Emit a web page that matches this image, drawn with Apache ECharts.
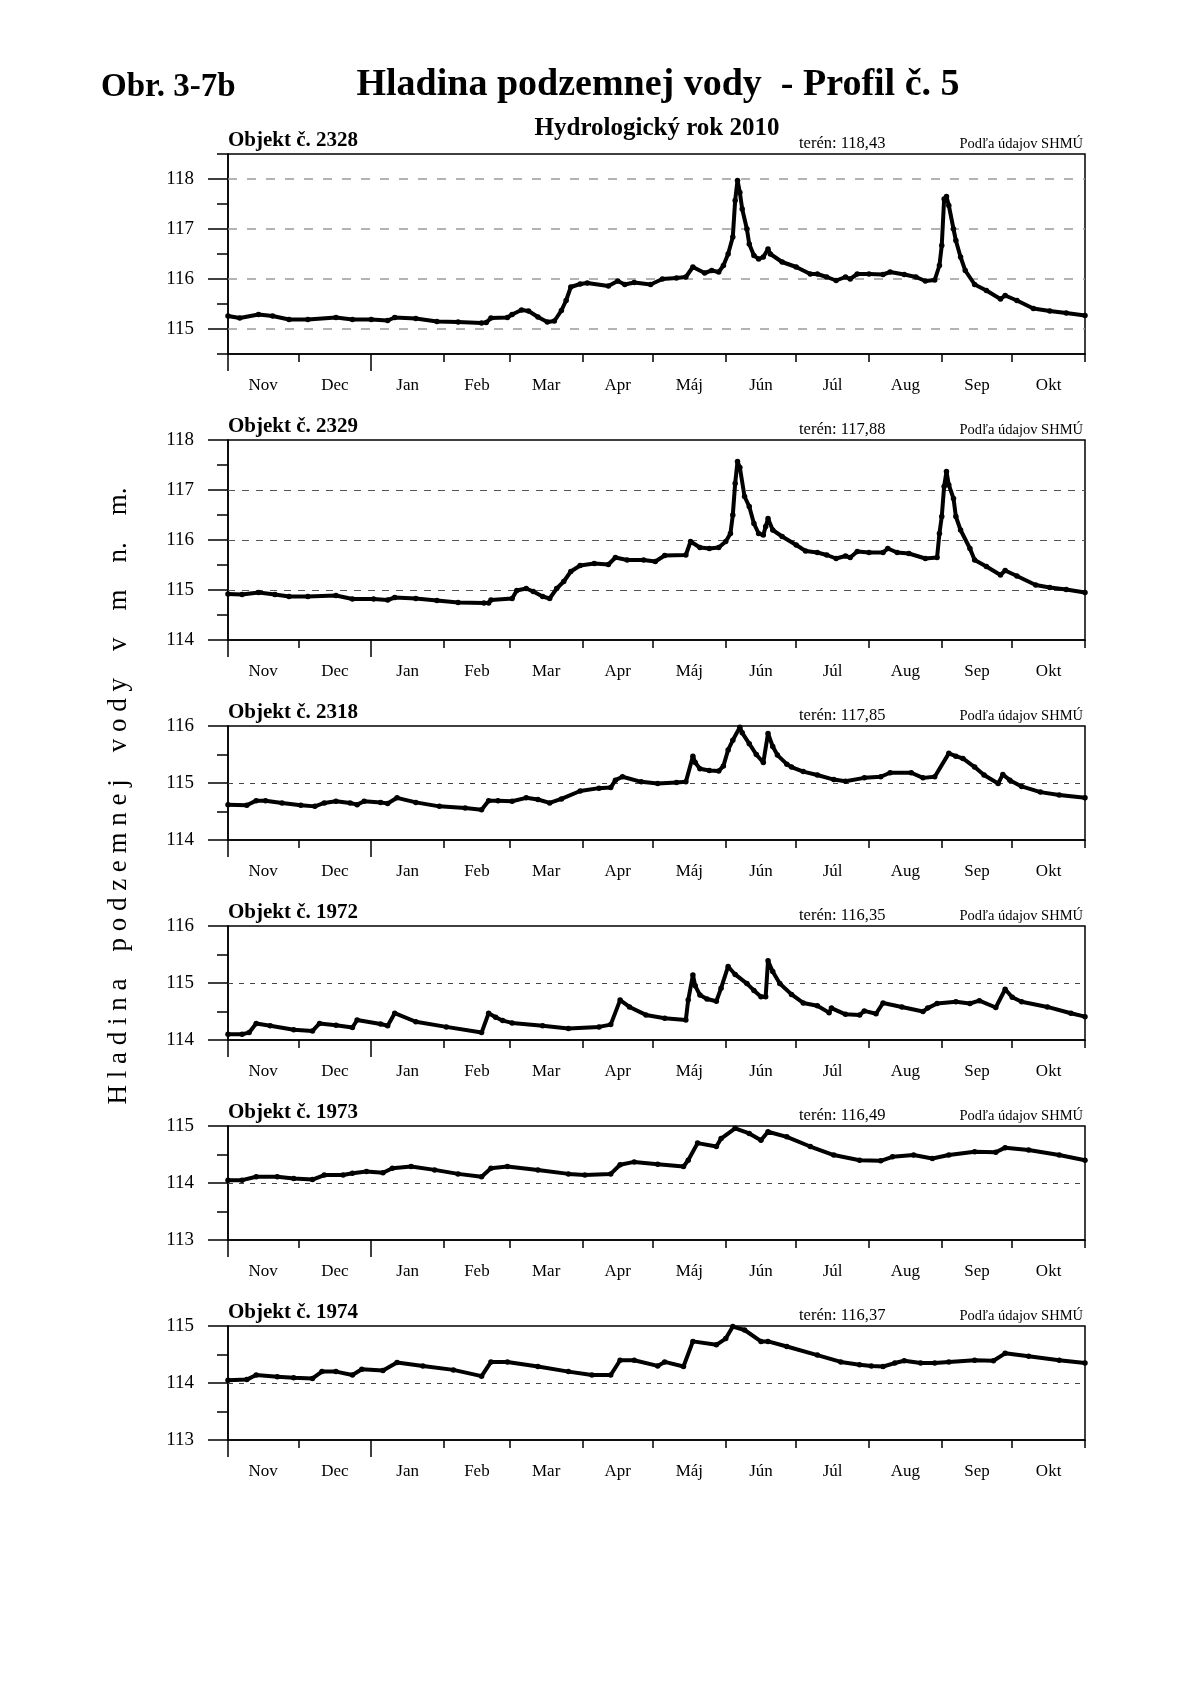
<!DOCTYPE html>
<html><head><meta charset="utf-8">
<script src="https://cdn.jsdelivr.net/npm/echarts@6/dist/echarts.min.js"></script>
<style>html,body{margin:0;padding:0;background:#fff}#c{width:1200px;height:1698px}</style>
</head><body><div id="c"></div>
<script>
// ---- data ----
const monthNames = ['Nov','Dec','Jan','Feb','Mar','Apr','Máj','Jún','Júl','Aug','Sep','Okt'];
const monthStarts = [0,30,61,92,120,151,181,212,242,273,304,334,365]; // days from 1 Nov 2009
const yearStarts = [0,61];
const objekty = ['2328','2329','2318','1972','1973','1974'];
const teren = ['118,43','117,88','117,85','116,35','116,49','116,37'];
const yMin = [114.5,114,114,114,113,113];
const yMax = [118.5,118,116,116,115,115];

const days2328 = [0,5,13,19,26,34,46,53,61,68,71,80,89,98,108,110,112,119,121,125,128,132,136,139,142,144,146,150,153,162,166,169,173,180,185,191,195,198,203,206,209,211,213,215,216,217,218,219,221,222,224,226,228,230,231,236,242,248,251,255,259,263,265,268,273,279,282,288,293,297,301,303,304,305,306,307,309,310,312,314,318,323,329,331,336,343,350,357,365];
const level2328 = [115.26,115.22,115.29,115.26,115.19,115.19,115.23,115.19,115.19,115.17,115.23,115.21,115.15,115.14,115.12,115.13,115.22,115.23,115.29,115.38,115.36,115.24,115.14,115.16,115.37,115.57,115.84,115.90,115.92,115.86,115.96,115.89,115.93,115.89,116.00,116.02,116.04,116.24,116.12,116.17,116.14,116.27,116.50,116.84,117.57,117.97,117.73,117.40,117.00,116.70,116.47,116.40,116.44,116.60,116.50,116.34,116.24,116.10,116.10,116.04,115.97,116.04,116.00,116.10,116.10,116.09,116.14,116.09,116.04,115.96,115.98,116.27,116.67,117.60,117.65,117.47,117.00,116.77,116.44,116.17,115.89,115.77,115.60,115.67,115.57,115.41,115.36,115.32,115.27];

const days2329 = [0,6,13,20,26,34,46,53,62,68,71,80,89,98,109,111,112,121,123,127,130,134,137,140,143,146,150,156,162,165,170,177,182,186,195,197,201,205,209,212,214,215,216,217,218,220,222,224,226,228,229,230,232,236,242,246,251,255,259,263,265,268,273,279,281,285,290,297,302,303,304,305,306,307,309,310,312,316,318,323,329,331,336,344,350,357,365];
const level2329 = [114.92,114.91,114.95,114.91,114.87,114.87,114.89,114.82,114.82,114.80,114.85,114.83,114.79,114.75,114.74,114.74,114.80,114.83,114.99,115.03,114.97,114.87,114.83,115.03,115.17,115.37,115.49,115.53,115.51,115.65,115.60,115.60,115.57,115.69,115.70,115.97,115.85,115.83,115.85,115.97,116.13,116.50,117.13,117.57,117.45,116.87,116.67,116.33,116.13,116.10,116.27,116.43,116.20,116.07,115.90,115.78,115.75,115.70,115.63,115.68,115.65,115.77,115.75,115.75,115.83,115.75,115.73,115.63,115.65,116.13,116.47,117.07,117.37,117.10,116.83,116.47,116.20,115.83,115.60,115.47,115.30,115.39,115.28,115.10,115.05,115.01,114.95];

const days2318 = [0,8,12,16,23,31,37,41,46,52,55,58,65,68,72,80,90,101,108,111,115,121,127,132,137,142,150,158,163,165,168,176,183,191,195,198,199,201,205,209,211,213,215,218,219,222,225,228,230,232,234,238,240,245,251,258,263,271,278,282,291,296,301,307,310,313,318,322,328,330,333,338,346,354,365];
const level2318 = [114.62,114.61,114.69,114.69,114.65,114.61,114.59,114.65,114.68,114.65,114.62,114.68,114.66,114.64,114.74,114.66,114.59,114.56,114.53,114.69,114.69,114.68,114.74,114.71,114.65,114.72,114.86,114.91,114.92,115.05,115.11,115.02,114.99,115.01,115.02,115.47,115.36,115.25,115.22,115.21,115.30,115.58,115.75,115.98,115.88,115.69,115.50,115.36,115.87,115.64,115.49,115.33,115.28,115.20,115.14,115.06,115.03,115.09,115.11,115.18,115.18,115.09,115.11,115.52,115.47,115.43,115.28,115.14,114.99,115.15,115.05,114.94,114.84,114.79,114.74];

const days1972 = [0,6,9,12,18,28,36,39,46,53,55,65,68,71,80,93,108,111,114,117,121,134,145,158,163,167,171,178,186,195,196,198,199,201,204,208,210,213,216,221,224,227,229,230,232,235,240,245,251,256,257,263,269,271,276,279,287,296,298,302,310,316,320,327,331,334,338,349,359,365];
const level1972 = [114.10,114.10,114.13,114.29,114.25,114.18,114.16,114.29,114.26,114.22,114.35,114.28,114.25,114.47,114.32,114.23,114.13,114.47,114.40,114.34,114.30,114.25,114.20,114.23,114.27,114.70,114.58,114.44,114.38,114.35,114.70,115.14,114.95,114.79,114.72,114.68,114.91,115.29,115.15,114.99,114.87,114.76,114.76,115.39,115.20,114.99,114.80,114.65,114.60,114.48,114.56,114.45,114.44,114.51,114.46,114.65,114.58,114.50,114.56,114.64,114.67,114.64,114.69,114.57,114.89,114.75,114.67,114.58,114.47,114.41];

const days1973 = [0,6,12,21,28,36,41,49,53,59,66,70,78,88,98,108,112,119,132,145,152,163,167,173,183,194,196,200,208,210,216,222,227,230,238,248,258,269,278,283,292,300,307,318,327,331,341,354,365];
const level1973 = [114.05,114.05,114.11,114.11,114.08,114.06,114.14,114.14,114.17,114.20,114.18,114.26,114.29,114.23,114.16,114.11,114.26,114.29,114.23,114.16,114.14,114.16,114.32,114.37,114.33,114.29,114.40,114.70,114.64,114.78,114.96,114.87,114.75,114.90,114.81,114.64,114.49,114.40,114.39,114.46,114.49,114.43,114.49,114.55,114.54,114.62,114.58,114.49,114.40];

const days1974 = [0,8,12,21,28,36,40,46,53,57,66,72,83,96,108,112,119,132,145,155,163,167,173,183,186,194,198,208,212,215,220,227,230,238,251,261,269,274,279,284,288,295,301,307,318,326,331,341,354,365];
const level1974 = [114.05,114.06,114.14,114.11,114.09,114.08,114.20,114.20,114.14,114.24,114.22,114.36,114.30,114.23,114.12,114.37,114.37,114.29,114.20,114.14,114.14,114.40,114.40,114.30,114.37,114.29,114.73,114.67,114.78,114.99,114.93,114.73,114.73,114.64,114.49,114.37,114.32,114.30,114.29,114.35,114.39,114.35,114.35,114.37,114.40,114.39,114.52,114.47,114.40,114.35];

const allDays = [days2328,days2329,days2318,days1972,days1973,days1974];
const allLevels = [level2328,level2329,level2318,level1972,level1973,level1974];

// ---- layout ----
const L = 228, W = 857;
const tops = [154,440,726,926,1126,1326];
const heights = [200,200,114,114,114,114];
const dashStyles = [
  {color:'#9a9a9a', type:[9,10], width:1.5},
  {color:'#555', type:[7,7], width:1},
  {color:'#444', type:[5,6], width:1},
  {color:'#444', type:[5,6], width:1},
  {color:'#444', type:[5,6], width:1},
  {color:'#444', type:[5,6], width:1}
];
const FONT = '"Liberation Serif","Times New Roman",serif';

const grids=[], xAxes=[], yAxes=[], series=[], graphics=[];
const monthMids = monthNames.map((m,i)=>(monthStarts[i]+monthStarts[i+1])/2);

for (let p=0;p<6;p++){
  grids.push({left:L, top:tops[p], width:W, height:heights[p], show:true, borderColor:'#000', borderWidth:1.5, backgroundColor:'transparent'});
  xAxes.push({gridIndex:p, type:'value', min:0, max:365, position:'bottom',
    axisLine:{show:true, onZero:false, lineStyle:{color:'#000', width:1.5}},
    axisTick:{show:true, length:8, customValues:monthStarts, lineStyle:{color:'#000', width:1.5}},
    axisLabel:{show:true, customValues:monthMids, margin:23, fontFamily:FONT, fontSize:17, color:'#000',
      formatter:(v)=>{const i=monthMids.indexOf(v); return i>=0?monthNames[i]:'';}},
    splitLine:{show:false}});
  xAxes.push({gridIndex:p, type:'value', min:0, max:365, position:'bottom',
    axisLine:{show:false, onZero:false},
    axisTick:{show:true, length:17, customValues:yearStarts, lineStyle:{color:'#000', width:1.5}},
    axisLabel:{show:false}, splitLine:{show:false}});
  const majors=[], minors=[], grid=[];
  for (let v=Math.ceil(yMin[p]); v<=yMax[p]+1e-9; v++){ majors.push(v); if (v>yMin[p]+1e-9 && v<yMax[p]-1e-9) grid.push(v); }
  for (let v=yMin[p]; v<=yMax[p]+1e-9; v+=0.5){ if (Math.abs(v-Math.round(v))>0.1) minors.push(v); }
  yAxes.push({gridIndex:p, type:'value', min:yMin[p], max:yMax[p], position:'left',
    axisLine:{show:true, onZero:false, lineStyle:{color:'#000', width:1.5}},
    axisTick:{show:true, length:20, customValues:majors, lineStyle:{color:'#000', width:1.5}},
    axisLabel:{show:true, customValues:majors, margin:34, fontFamily:FONT, fontSize:19, color:'#000', formatter:(v)=>String(Math.round(v))},
    splitLine:{show:false}});
  yAxes.push({gridIndex:p, type:'value', min:yMin[p], max:yMax[p], position:'left',
    axisLine:{show:false, onZero:false},
    axisTick:{show:true, length:11, customValues:minors, lineStyle:{color:'#000', width:1.5}},
    axisLabel:{show:false}, splitLine:{show:false}});
  series.push({type:'line', xAxisIndex:2*p, yAxisIndex:2*p,
    data: allDays[p].map((d,i)=>[d, allLevels[p][i]]),
    symbol:'circle', symbolSize:5.5, showAllSymbol:true, smooth:false,
    lineStyle:{color:'#000', width:4, join:'round', cap:'round'}, itemStyle:{color:'#000'},
    animation:false, z:5,
    markLine:{silent:true, symbol:['none','none'], label:{show:false},
      lineStyle:dashStyles[p], data: grid.map(v=>({yAxis:v})), z:1}
  });
  graphics.push({type:'text', x:L, y:tops[p]-13, style:{text:'Objekt č. '+objekty[p], font:'bold 21px '+FONT, fill:'#000', textAlign:'left', textVerticalAlign:'middle'}});
  graphics.push({type:'text', x:799, y:tops[p]-10, style:{text:'terén: '+teren[p], font:'16.5px '+FONT, fill:'#000', textAlign:'left', textVerticalAlign:'middle'}});
  graphics.push({type:'text', x:1083, y:tops[p]-10, style:{text:'Podľa údajov SHMÚ', font:'14.5px '+FONT, fill:'#000', textAlign:'right', textVerticalAlign:'middle'}});
}

graphics.push({type:'text', x:101, y:87, style:{text:'Obr. 3-7b', font:'bold 33px '+FONT, fill:'#000', textAlign:'left', textVerticalAlign:'middle'}});
graphics.push({type:'text', x:658, y:85, style:{text:'Hladina podzemnej vody  - Profil č. 5', font:'bold 38px '+FONT, fill:'#000', textAlign:'center', textVerticalAlign:'middle'}});
graphics.push({type:'text', x:657, y:129, style:{text:'Hydrologický rok 2010', font:'bold 25px '+FONT, fill:'#000', textAlign:'center', textVerticalAlign:'middle'}});
graphics.push({type:'text', x:119, y:796, rotation:Math.PI/2, style:{text:'H l a d i n a    p o d z e m n e j    v o d y    v    m    n.    m.', font:'27px '+FONT, fill:'#000', textAlign:'center', textVerticalAlign:'middle'}});

const chart = echarts.init(document.getElementById('c'), null, {renderer:'canvas'});
chart.setOption({animation:false, backgroundColor:'#fff', grid:grids, xAxis:xAxes, yAxis:yAxes, series:series, graphic:graphics});
</script></body></html>
